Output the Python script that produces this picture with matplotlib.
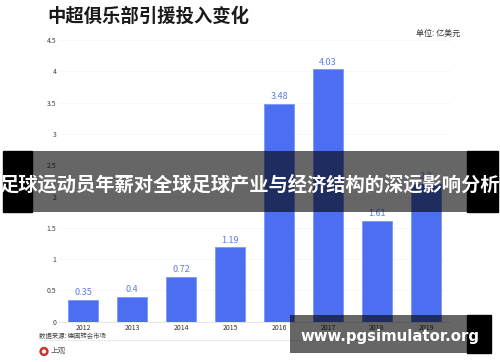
import matplotlib
matplotlib.use('Agg')
import matplotlib.pyplot as plt
from matplotlib.patches import Rectangle, Circle

plt.rcParams['font.family'] = ['Noto Sans CJK SC', 'DejaVu Sans']

years = ['2012', '2013', '2014', '2015', '2016', '2017', '2018', '2019']
values = [0.35, 0.4, 0.72, 1.19, 3.48, 4.03, 1.61, 2.2]
value_labels = ['0.35', '0.4', '0.72', '1.19', '3.48', '4.03', '1.61', '2.2']
yticks = [0, 0.5, 1, 1.5, 2, 2.5, 3, 3.5, 4, 4.5]
ytick_labels = ['0', '0.5', '1', '1.5', '2', '2.5', '3', '3.5', '4', '4.5']

fig = plt.figure(figsize=(5, 3.62), dpi=100)

# plot area, in figure fractions from the pixel positions
ax = fig.add_axes([58.5 / 500, 1 - 321.7 / 362, 392 / 500, 281.7 / 362])
ax.bar(years, values, width=0.6, color='#4c6ef0', edgecolor='#7f98f5', linewidth=0.6, zorder=2)
for i in range(len(years)):
    ax.text(i, values[i] + 0.04, value_labels[i], ha='center', va='bottom',
            fontsize=6.5, fontweight='medium', color='#5f7de6', zorder=3)

ax.set_xlim(-0.5, 7.5)
ax.set_ylim(0, 4.5)
ax.set_yticks(yticks)
ax.set_yticklabels(ytick_labels)
ax.tick_params(axis='y', length=0, labelsize=5, labelcolor='#444444', pad=1.5)
ax.tick_params(axis='x', length=0, labelsize=5, labelcolor='#333333', pad=1.5)
ax.grid(axis='y', color='#f7f7f7', linewidth=0.6, zorder=0)
for s in ['top', 'right', 'left']:
    ax.spines[s].set_visible(False)
ax.spines['bottom'].set_color('#e2e2e2')
ax.spines['bottom'].set_linewidth(0.6)

# overlay in pixel coordinates for title, footer and the two banners
ov = fig.add_axes([0, 0, 1, 1], facecolor='none')
ov.set_xlim(0, 500)
ov.set_ylim(362, 0)
ov.axis('off')

ov.text(47, 16, '中超俱乐部引援投入变化', fontsize=13.2, fontweight='bold',
        color='#1a1a1a', ha='left', va='center')
ov.text(460, 33.5, '单位: 亿美元', fontsize=5.8, color='#333333', ha='right', va='center')
ov.text(39, 336, '数据来源: 德国转会市场', fontsize=4.6, color='#444444', ha='left', va='center')
ov.plot([39, 449], [340, 340], color='#e8e8e8', linewidth=0.6)
ov.add_patch(Circle((44, 351.5), 3.4, facecolor='none', edgecolor='#c8352b', linewidth=1.8))
ov.text(51, 350.5, '上观', fontsize=5.5, color='#555555', ha='left', va='center')

# top banner
ov.add_patch(Rectangle((3, 151), 29, 61, color='black', zorder=5))
ov.add_patch(Rectangle((467, 151), 31, 61, color='black', zorder=5))
ov.add_patch(Rectangle((32, 151), 435, 61, color='black', alpha=0.6, linewidth=0, zorder=5))
ov.text(250, 185, '足球运动员年薪对全球足球产业与经济结构的深远影响分析', fontsize=13.9,
        fontweight='bold', color='white', ha='center', va='center', zorder=6)

# bottom banner
ov.add_patch(Rectangle((467, 315), 24, 38, color='black', zorder=5))
ov.add_patch(Rectangle((290, 315), 177, 38, color='black', alpha=0.6, linewidth=0, zorder=5))
ov.text(390, 337, 'www.pgsimulator.org', fontsize=10.7, fontweight='bold', color='white',
        family='DejaVu Sans', ha='center', va='center', zorder=6)

fig.savefig('out.png', dpi=100)
